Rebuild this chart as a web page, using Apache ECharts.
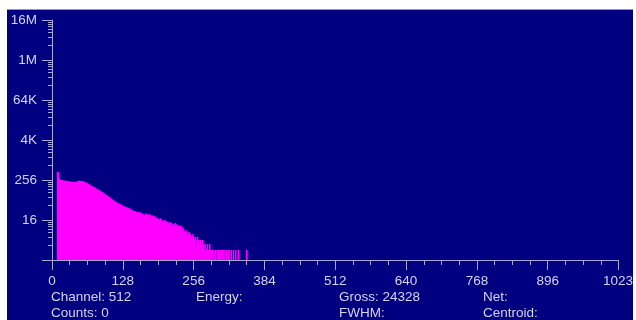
<!DOCTYPE html>
<html>
<head>
<meta charset="utf-8">
<script src="https://cdn.jsdelivr.net/npm/echarts@6/dist/echarts.min.js"></script>
<style>
  html, body { margin: 0; padding: 0; background: #fff; }
  #panel { position: absolute; left: 7px; top: 9px; width: 626px; height: 311px; background: #000080; border-top: 1px solid #9a9a9a; box-sizing: border-box; }
  #chart { position: absolute; left: 0; top: 0; width: 636px; height: 320px; }
</style>
</head>
<body>
<div id="panel"></div>
<div id="chart"></div>
<script>
// spectrum counts, one per channel, starting at channel 10
const startChannel = 10;
const counts = [
  452, 438, 318, 286, 268, 259, 254, 262, 248, 251,
  244, 239, 246, 236, 241, 233, 238, 229, 236, 231,
  226, 234, 222, 229, 224, 219, 227, 221, 216, 224,
  218, 225, 220, 214, 223, 228, 231, 237, 242, 236,
  244, 239, 235, 241, 233, 229, 236, 224, 219, 226,
  212, 207, 214, 203, 198, 192, 196, 185, 181, 177,
  172, 169, 164, 166, 158, 155, 151, 153, 146, 142,
  139, 136, 131, 133, 126, 122, 124, 118, 114, 116,
  110, 106, 108, 101, 98, 95, 97, 90, 87, 89,
  83, 80, 82, 76, 73, 75, 70, 67, 69, 64,
  61, 63, 58, 56, 59, 54, 52, 55, 50, 49,
  51, 47, 46, 49, 44, 45, 42, 44, 41, 43,
  40, 38, 41, 37, 36, 39, 35, 34, 37, 33,
  32, 35, 31, 30, 33, 29, 31, 28, 27, 30,
  26, 28, 29, 25, 27, 24, 26, 28, 23, 25,
  27, 24, 22, 25, 23, 21, 24, 22, 20, 23,
  25, 21, 19, 22, 24, 20, 18, 21, 23, 19,
  20, 17, 22, 19, 16, 21, 18, 15, 19, 17,
  14, 18, 16, 13, 17, 15, 18, 12, 16, 14,
  15, 13, 11, 16, 14, 12, 15, 10, 13, 14,
  11, 13, 9, 14, 12, 10, 13, 11, 8, 12,
  12, 9, 11, 13, 8, 10, 12, 9, 11, 7,
  10, 8, 11, 9, 6, 10, 7, 9, 8, 6,
  7, 5, 8, 6, 7, 4, 6, 5, 7, 3,
  6, 4, 5, 3, 6, 2, 5, 4, 3, 5,
  4, 3, 2, 5, 3, 4, 2, 3, 4, 1,
  3, 2, 4, 1, 3, 2, 2, 3, 1, 2,
  2, 3, 1, 2, 0, 3, 2, 1, 2, 1,
  2, 1, 0, 2, 1, 1, 2, 0, 1, 2,
  1, 2, 2, 0, 1, 2, 1, 0, 2, 1,
  0, 2, 1, 1, 0, 2, 1, 0, 1, 2,
  2, 0, 1, 1, 2, 0, 0, 1, 2, 0,
  1, 0, 2, 1, 0, 0, 1, 2, 0, 1,
  0, 1, 0, 0, 1, 0, 0, 1, 0, 0,
  1, 0, 2, 0, 0, 1, 0, 0, 0, 1
];

const yTickLabels = { 16: '16', 256: '256', 4096: '4K', 65536: '64K', 1048576: '1M', 16777216: '16M' };

const statusRow1 = [['Channel: 512', 51], ['Energy:', 196], ['Gross: 24328', 339], ['Net:', 483]];
const statusRow2 = [['Counts: 0', 51], ['FWHM:', 339], ['Centroid:', 483]];

const data = [];
counts.forEach((v, i) => {
  if (v > 0) data.push([startChannel + i, v]);
});

const axisColor = '#a8a8d8';
const textColor = '#d4d4e8';
const fontFamily = '"Liberation Sans", Arial, sans-serif';

const chart = echarts.init(document.getElementById('chart'));

const statusText = (rows, y) => rows.map(([t, x]) => ({
  type: 'text',
  left: x,
  top: y,
  style: { text: t, fill: textColor, font: '13.5px ' + fontFamily },
}));

chart.setOption({
  animation: false,
  grid: { left: 52, right: 13, top: 20, bottom: 60 },
  xAxis: {
    type: 'value',
    min: 0,
    max: 1023,
    interval: 128,
    splitLine: { show: false },
    axisLine: { lineStyle: { color: axisColor, width: 1 } },
    axisTick: { length: 10, lineStyle: { color: axisColor } },
    minorTick: { show: true, splitNumber: 4, length: 5, lineStyle: { color: axisColor } },
    axisLabel: {
      color: textColor,
      fontSize: 13.5,
      fontFamily: fontFamily,
      margin: 14,
      showMaxLabel: true,
      formatter: (v) => String(Math.round(v)),
    },
  },
  yAxis: {
    type: 'log',
    logBase: 16,
    min: 1,
    max: 16777216,
    splitNumber: 6,
    splitLine: { show: false },
    axisLine: { show: true, lineStyle: { color: axisColor, width: 1 } },
    axisTick: { show: true, length: 10, lineStyle: { color: axisColor } },
    minorTick: { show: true, splitNumber: 8, length: 4, lineStyle: { color: axisColor } },
    axisLabel: {
      color: textColor,
      fontSize: 13.5,
      fontFamily: fontFamily,
      margin: 15,
      formatter: (v) => yTickLabels[Math.round(v)] || '',
    },
  },
  series: [{
    type: 'bar',
    data: data,
    barWidth: 1.6,
    itemStyle: { color: '#ff00ff' },
    silent: true,
  }],
  graphic: [
    ...statusText(statusRow1, 290),
    ...statusText(statusRow2, 306),
  ],
});
</script>
</body>
</html>
